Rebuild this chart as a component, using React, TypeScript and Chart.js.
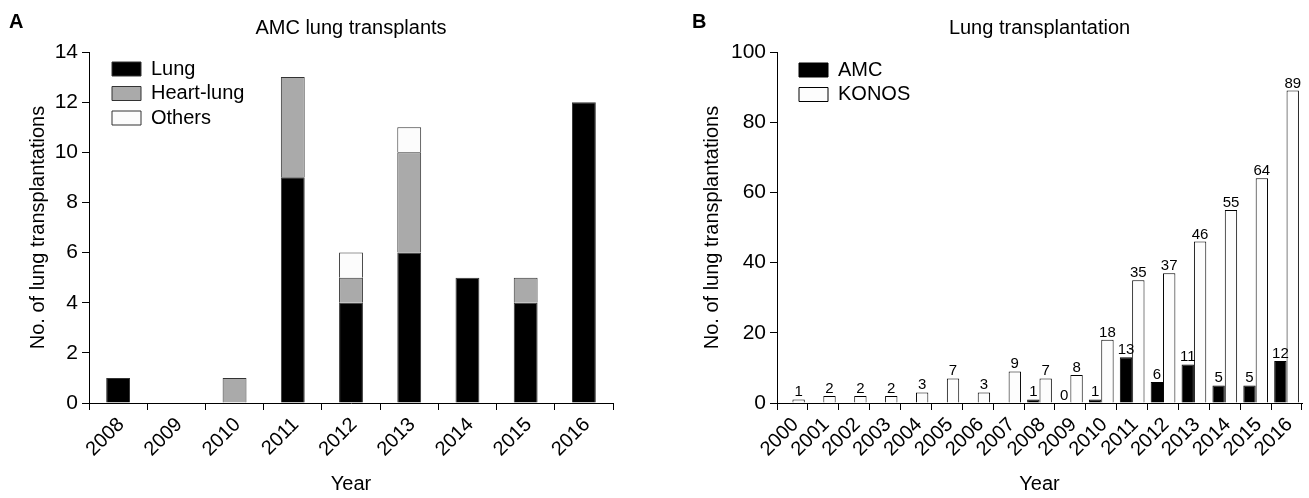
import React, { useEffect, useRef } from "react";
import { Chart, registerables } from "chart.js";

Chart.register(...registerables);

const FONT = '"Liberation Sans", Arial, Helvetica, sans-serif';

// Panel A data
const yearsA = ["2008", "2009", "2010", "2011", "2012", "2013", "2014", "2015", "2016"];
const lungA = [1, 0, 0, 9, 4, 6, 5, 4, 12];
const heartLungA = [0, 0, 1, 4, 1, 4, 0, 1, 0];
const othersA = [0, 0, 0, 0, 1, 1, 0, 0, 0];
const yMaxA = 14;
const yStepA = 2;

// Panel B data
const yearsB = [
  "2000", "2001", "2002", "2003", "2004", "2005", "2006", "2007", "2008",
  "2009", "2010", "2011", "2012", "2013", "2014", "2015", "2016",
];
const amcB = [null, null, null, null, null, null, null, null, 1, 0, 1, 13, 6, 11, 5, 5, 12];
const konosB = [1, 2, 2, 2, 3, 7, 3, 9, 7, 8, 18, 35, 37, 46, 55, 64, 89];
const yMaxB = 100;
const yStepB = 20;

function panelText(letter: string, letterX: number, title: string) {
  return {
    id: "panelText",
    afterDraw(chart: any) {
      const { ctx, chartArea } = chart;
      ctx.save();
      ctx.fillStyle = "#000";
      ctx.textBaseline = "alphabetic";
      ctx.textAlign = "left";
      ctx.font = `bold 20px ${FONT}`;
      ctx.fillText(letter, letterX, 28);
      ctx.font = `20px ${FONT}`;
      ctx.textAlign = "center";
      ctx.fillText(title, (chartArea.left + chartArea.right) / 2, 34);
      ctx.restore();
    },
  };
}

// place the legend inside the plot area, near its top-left corner
function legendPlace(dx: number, dy: number) {
  return {
    id: "legendPlace",
    beforeDraw(chart: any) {
      const l = chart.legend;
      if (!l) return;
      const w = l.width;
      const h = l.height;
      l.left = chart.chartArea.left + dx;
      l.top = chart.chartArea.top + dy;
      l.right = l.left + w;
      l.bottom = l.top + h;
    },
  };
}

const valueLabels = {
  id: "valueLabels",
  afterDatasetsDraw(chart: any) {
    const { ctx } = chart;
    ctx.save();
    ctx.fillStyle = "#000";
    ctx.font = `15px ${FONT}`;
    ctx.textAlign = "center";
    ctx.textBaseline = "alphabetic";
    chart.data.datasets.forEach((ds: any, di: number) => {
      const meta = chart.getDatasetMeta(di);
      meta.data.forEach((bar: any, i: number) => {
        const v = ds.data[i];
        if (v === null || v === undefined) return;
        ctx.fillText(String(v), bar.x, bar.y - 3);
      });
    });
    ctx.restore();
  },
};

function axisCommon(yWidth: number, xHeight: number, yTitlePad: number) {
  return {
    x: {
      stacked: false,
      offset: true,
      grid: {
        display: true,
        drawOnChartArea: false,
        drawTicks: true,
        tickLength: 7,
        color: "#000",
        lineWidth: 1,
        offset: true,
      },
      border: { display: true, color: "#000", width: 1 },
      ticks: {
        color: "#000",
        font: { family: FONT, size: 20 },
        minRotation: 45,
        maxRotation: 45,
        autoSkip: false,
        padding: 3,
        labelOffset: 3,
      },
      title: {
        display: true,
        text: "Year",
        color: "#000",
        font: { family: FONT, size: 20 },
        padding: { top: 0, bottom: 2 },
      },
      afterFit(s: any) {
        s.height = xHeight;
        s.paddingLeft = 0;
        s.paddingRight = 0;
      },
    },
    y: {
      min: 0,
      grid: {
        display: true,
        drawOnChartArea: false,
        drawTicks: true,
        tickLength: 7,
        color: "#000",
        lineWidth: 1,
      },
      border: { display: true, color: "#000", width: 1 },
      ticks: {
        color: "#000",
        font: { family: FONT, size: 21 },
        padding: 4,
      },
      title: {
        display: true,
        text: "No. of lung transplantations",
        color: "#000",
        font: { family: FONT, size: 20 },
        padding: { top: yTitlePad, bottom: 0 },
      },
      afterFit(s: any) {
        s.width = yWidth;
        s.paddingTop = 0;
        s.paddingBottom = 0;
      },
    },
  };
}

function legendOpts() {
  return {
    display: true,
    position: "chartArea" as const,
    align: "start" as const,
    labels: {
      boxWidth: 29,
      boxHeight: 14,
      padding: 4.5,
      color: "#000",
      font: { family: FONT, size: 20 },
    },
  };
}

export default function App() {
  const refA = useRef<HTMLCanvasElement | null>(null);
  const refB = useRef<HTMLCanvasElement | null>(null);

  useEffect(() => {
    Chart.defaults.font.family = FONT;
    Chart.defaults.color = "#000";

    const axesA: any = axisCommon(89, 95, 26);
    axesA.x.stacked = true;
    axesA.y.stacked = true;
    axesA.y.max = yMaxA;
    axesA.y.ticks.stepSize = yStepA;

    const chartA = new Chart(refA.current as HTMLCanvasElement, {
      type: "bar",
      data: {
        labels: yearsA,
        datasets: [
          {
            label: "Lung",
            data: lungA,
            backgroundColor: "#000000",
            borderColor: "#333333",
            borderWidth: 1,
          },
          {
            label: "Heart-lung",
            data: heartLungA,
            backgroundColor: "#aaaaaa",
            borderColor: "#333333",
            borderWidth: 1,
          },
          {
            label: "Others",
            data: othersA,
            backgroundColor: "#fcfcfc",
            borderColor: "#333333",
            borderWidth: 1,
          },
        ],
      },
      options: {
        responsive: false,
        animation: false,
        events: [],
        layout: { padding: { left: 0, top: 52, right: 37, bottom: 0 } },
        datasets: { bar: { barPercentage: 0.41, categoryPercentage: 1 } },
        plugins: {
          legend: legendOpts(),
          title: { display: false },
          tooltip: { enabled: false },
        },
        scales: axesA,
      },
      plugins: [panelText("A", 9, "AMC lung transplants"), legendPlace(18.5, 2.5)],
    } as any);

    const axesB: any = axisCommon(87, 95, 10);
    axesB.y.max = yMaxB;
    axesB.y.ticks.stepSize = yStepB;

    const chartB = new Chart(refB.current as HTMLCanvasElement, {
      type: "bar",
      data: {
        labels: yearsB,
        datasets: [
          {
            label: "AMC",
            data: amcB,
            backgroundColor: "#000000",
            borderColor: "#000000",
            borderWidth: 1,
          },
          {
            label: "KONOS",
            data: konosB,
            backgroundColor: "#fdfdfd",
            borderColor: "#000000",
            borderWidth: 1,
          },
        ],
      },
      options: {
        responsive: false,
        animation: false,
        events: [],
        layout: { padding: { left: 0, top: 52, right: 7, bottom: 0 } },
        datasets: { bar: { barPercentage: 1, categoryPercentage: 0.8 } },
        plugins: {
          legend: legendOpts(),
          title: { display: false },
          tooltip: { enabled: false },
        },
        scales: axesB,
      },
      plugins: [panelText("B", 2, "Lung transplantation"), legendPlace(17.5, 3.5), valueLabels],
    } as any);

    return () => {
      chartA.destroy();
      chartB.destroy();
    };
  }, []);

  return (
    <div
      style={{
        position: "fixed",
        left: 0,
        top: 0,
        width: 1309,
        height: 498,
        background: "#ffffff",
        overflow: "hidden",
      }}
    >
      <div style={{ position: "absolute", left: 0, top: 0, width: 650, height: 498 }}>
        <canvas ref={refA} width={650} height={498} style={{ display: "block" }} />
      </div>
      <div style={{ position: "absolute", left: 690, top: 0, width: 619, height: 498 }}>
        <canvas ref={refB} width={619} height={498} style={{ display: "block" }} />
      </div>
    </div>
  );
}
